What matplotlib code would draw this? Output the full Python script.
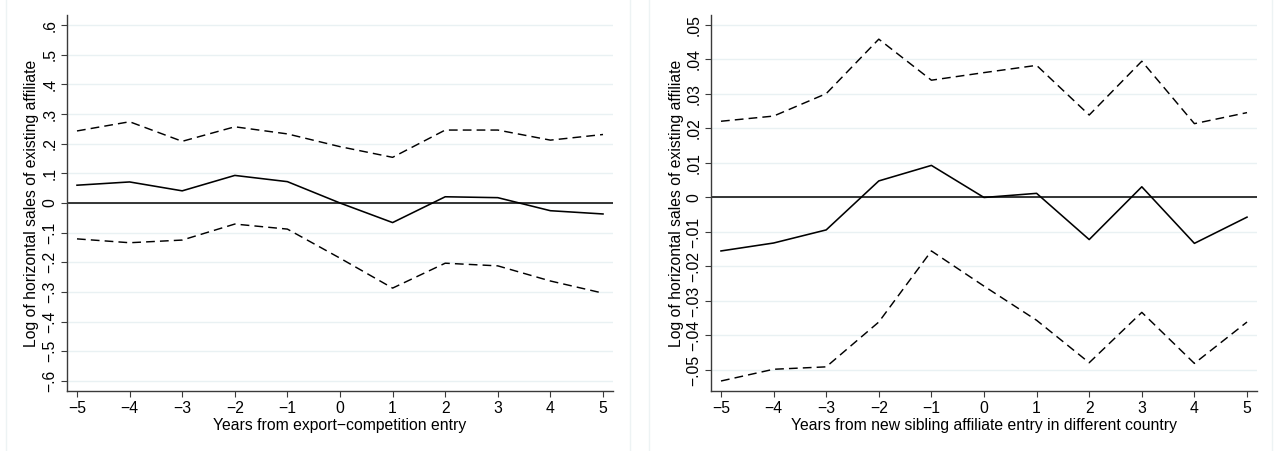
import numpy as np
import matplotlib
matplotlib.use('Agg')
import matplotlib.pyplot as plt
from matplotlib.lines import Line2D

plt.rcParams['font.family'] = ['Liberation Sans', 'DejaVu Sans']

years = [-5, -4, -3, -2, -1, 0, 1, 2, 3, 4, 5]

# left panel: export-competition entry
left_est = [0.060, 0.071, 0.041, 0.093, 0.072, 0.0, -0.066, 0.021, 0.018, -0.026, -0.037]
left_hi = [0.243, 0.274, 0.208, 0.257, 0.233, 0.190, 0.154, 0.246, 0.246, 0.212, 0.231]
left_lo = [-0.121, -0.134, -0.125, -0.071, -0.088, -0.186, -0.287, -0.203, -0.212, -0.263, -0.304]
left_yticks = [-0.6, -0.5, -0.4, -0.3, -0.2, -0.1, 0, 0.1, 0.2, 0.3, 0.4, 0.5, 0.6]
left_ylabels = ['\u2212.6', '\u2212.5', '\u2212.4', '\u2212.3', '\u2212.2', '\u2212.1', '0',
                '.1', '.2', '.3', '.4', '.5', '.6']

# right panel: new sibling affiliate entry
right_est = [-0.0155, -0.0132, -0.0094, 0.0048, 0.0093, 0.0, 0.0012, -0.0122, 0.0031, -0.0133, -0.0057]
right_hi = [0.0221, 0.0236, 0.0301, 0.0459, 0.0340, 0.0362, 0.0383, 0.0239, 0.0395, 0.0214, 0.0246]
right_lo = [-0.0532, -0.0498, -0.0491, -0.0361, -0.0155, -0.0257, -0.0356, -0.0479, -0.0333, -0.0481, -0.0361]
right_yticks = [-0.05, -0.04, -0.03, -0.02, -0.01, 0, 0.01, 0.02, 0.03, 0.04, 0.05]
right_ylabels = ['\u2212.05', '\u2212.04', '\u2212.03', '\u2212.02', '\u2212.01', '0',
                 '.01', '.02', '.03', '.04', '.05']

grid_col = '#e9f1f3'
axis_col = '#3a3a3a'
fs = 11.3

fig = plt.figure(figsize=(12.76, 4.51), dpi=100)

# faint panel frames
for xx in [6 / 1276, 630 / 1276, 649 / 1276, 1272 / 1276]:
    fig.add_artist(Line2D([xx, xx], [0, 1], transform=fig.transFigure, color='#edf3f4', lw=1.0))


def panel(ax, est, hi, lo, yticks, ylabels, ylim, xlabel):
    for t in yticks:
        ax.axhline(t, color=grid_col, lw=1.0, zorder=0)
    ax.axhline(0, color='black', lw=1.1, zorder=2)
    ax.plot(years, est, color='black', lw=1.15, zorder=3)
    ax.plot(years, hi, color='black', lw=1.05, ls=(0, (6, 3.5)), zorder=3)
    ax.plot(years, lo, color='black', lw=1.05, ls=(0, (6, 3.5)), zorder=3)
    ax.set_xlim(-5.19, 5.19)
    ax.set_ylim(*ylim)
    ax.set_xticks(years)
    ax.set_xticklabels(['\u2212%d' % -y if y < 0 else str(y) for y in years])
    ax.set_yticks(yticks)
    ax.set_yticklabels(ylabels, rotation=90, va='center')
    ax.tick_params(length=4.5, width=0.8, color=axis_col, labelsize=fs, pad=2.5)
    for s in ['top', 'right']:
        ax.spines[s].set_visible(False)
    for s in ['left', 'bottom']:
        ax.spines[s].set_color(axis_col)
        ax.spines[s].set_linewidth(1.0)
    ax.set_xlabel(xlabel, fontsize=fs, labelpad=1.5)
    ax.set_ylabel('Log of horizontal sales of existing affiliate', fontsize=fs, labelpad=2)


ax1 = fig.add_axes([67 / 1276, 60 / 451, 546 / 1276, 376 / 451])
panel(ax1, left_est, left_hi, left_lo, left_yticks, left_ylabels, (-0.634, 0.634),
      'Years from export\u2212competition entry')

ax2 = fig.add_axes([711 / 1276, 60 / 451, 546 / 1276, 376 / 451])
panel(ax2, right_est, right_hi, right_lo, right_yticks, right_ylabels, (-0.0561, 0.0529),
      'Years from new sibling affiliate entry in different country')

fig.savefig('out.png', dpi=100)
